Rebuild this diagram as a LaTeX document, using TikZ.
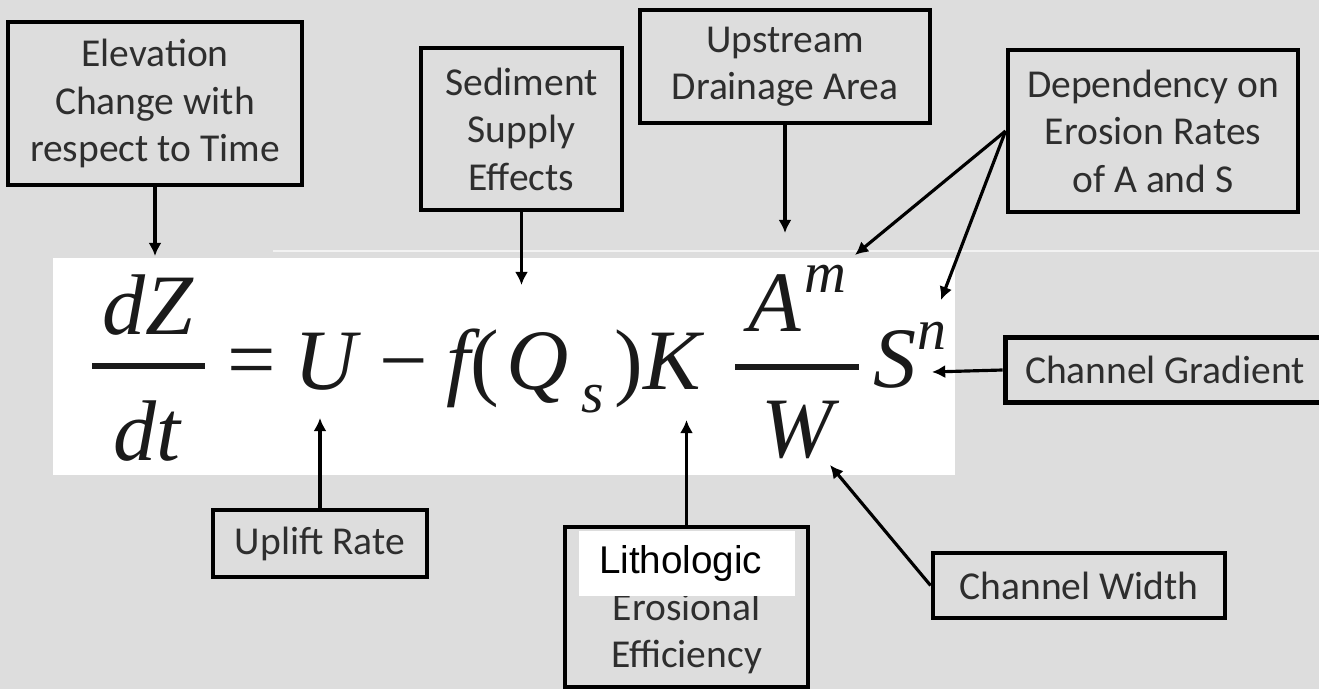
\documentclass[tikz,border=0pt]{standalone}
\usepackage{fontspec}
\setmainfont{Carlito}
\newfontfamily\eqfont{Liberation Serif}
\newfontfamily\patchfont{Liberation Sans}
\usetikzlibrary{positioning, arrows.meta}
\definecolor{panelgray}{HTML}{DDDDDD}
\definecolor{boxtext}{HTML}{2E2E2E}
\definecolor{eqink}{HTML}{1A1A1A}
\definecolor{seamline}{HTML}{F2F2F2}

\begin{document}
\begin{tikzpicture}[
    x=0.02cm, y=-0.02cm,
    every node/.style={inner sep=0pt},
    lbl/.style={draw, line width=2.8pt, fill=panelgray, text=boxtext,
                font=\fontsize{22.5}{27}\selectfont, align=center},
    term/.style={anchor=base, text=eqink,
                 font=\eqfont\fontsize{49}{54}\selectfont\itshape},
    expo/.style={anchor=base, text=eqink,
                 font=\eqfont\fontsize{33}{36}\selectfont\itshape},
    pointer/.style={line width=1.8pt, -{Latex[length=7.5pt,width=7.5pt]}},
  ]
  \fill[panelgray] (0,0) rectangle (1319,689);
  \useasboundingbox (0,0) rectangle (1319,689);
  \clip (0,0) rectangle (1319,689);
  \draw[seamline, line width=1.2pt] (273,251) -- (1319,251);
  \fill[white] (53,258) rectangle (955,475);

  % the erosion equation
  \node[term] (dZ) at (148,335) {dZ};
  \node[term] (dt) at (147,460) {dt};
  \draw[eqink, line width=3.2pt] (92,366) -- (205,366);
  \node[term, font=\eqfont\fontsize{49}{54}\selectfont] (eq) at (252,388) {=};
  \node[term] (U) at (326,389) {U};
  \node[term, font=\eqfont\fontsize{49}{54}\selectfont] (minus) at (404,389) {−};
  \node[term, anchor=base west] (f) at (446,389) {f{\upshape(}};
  \node[term] (Q) at (538,389) {Q};
  \node[expo] (sub) at (593,412) {s};
  \node[term, anchor=base west] (K) at (614,389) {{\upshape)}K};
  \node[term] (A) at (775,332) {A};
  \node[expo] (supm) at (825,293) {m};
  \draw[eqink, line width=3.2pt] (735,367) -- (859,367);
  \node[term] (W) at (797,457) {W};
  \node[term] (S) at (895,387) {S};
  \node[expo] (supn) at (932,350) {n};

  % labels
  \node[lbl, minimum width=5.88cm, minimum height=3.26cm] (elev) at (155,103.5)
    {Elevation\\Change with\\respect to Time};
  \node[lbl, minimum width=4.02cm, minimum height=3.24cm] (sed) at (521.5,129)
    {Sediment\\Supply\\Effects};
  \node[lbl, minimum width=5.8cm, minimum height=2.26cm] (up) at (785,66.5)
    {Upstream\\Drainage Area};
  \node[lbl, minimum width=5.8cm, minimum height=3.24cm] (dep) at (1153,131)
    {Dependency on\\Erosion Rates\\of A and S};
  \node[lbl, minimum width=6.4cm, minimum height=1.3cm] (grad) at (1165,370)
    {Channel Gradient};
  \node[lbl, minimum width=4.28cm, minimum height=1.34cm] (upl) at (320,543.5)
    {Uplift Rate};
  \node[lbl, minimum width=4.86cm, minimum height=3.2cm] (lith) at (686.5,607)
    {\strut\\Erosional\\Efficiency};
  \node[fill=white, minimum width=4.32cm, minimum height=1.3cm, text width=3.52cm,
        align=left, inner xsep=0.4cm, font=\patchfont\fontsize{22}{26}\selectfont]
    (litho) at (687,563.5) {Lithologic};
  \node[lbl, minimum width=5.84cm, minimum height=1.3cm] (wid) at (1079,585.5)
    {Channel Width};

  % arrow tips
  \coordinate (tipZ) at (155,256);
  \coordinate (tipQ) at (521.5,285);
  \coordinate (tipA) at (785,233);
  \coordinate (tipM) at (855,255);
  \coordinate (tipN) at (941,300);
  \coordinate (tipS) at (932,372);
  \coordinate (tipU) at (320,418);
  \coordinate (tipK) at (686.5,420);
  \coordinate (tipW) at (830,465);

  \draw[pointer] (elev) -- (tipZ);
  \draw[pointer] (sed) -- (tipQ);
  \draw[pointer] (up) -- (tipA);
  \draw[pointer] (dep.west) -- (tipM);
  \draw[pointer] (dep.west) -- (tipN);
  \draw[pointer] (grad.west) -- (tipS);
  \draw[pointer] (upl) -- (tipU);
  \draw[pointer] (lith) -- (tipK);
  \draw[pointer] (wid.west) -- (tipW);
\end{tikzpicture}
\end{document}
